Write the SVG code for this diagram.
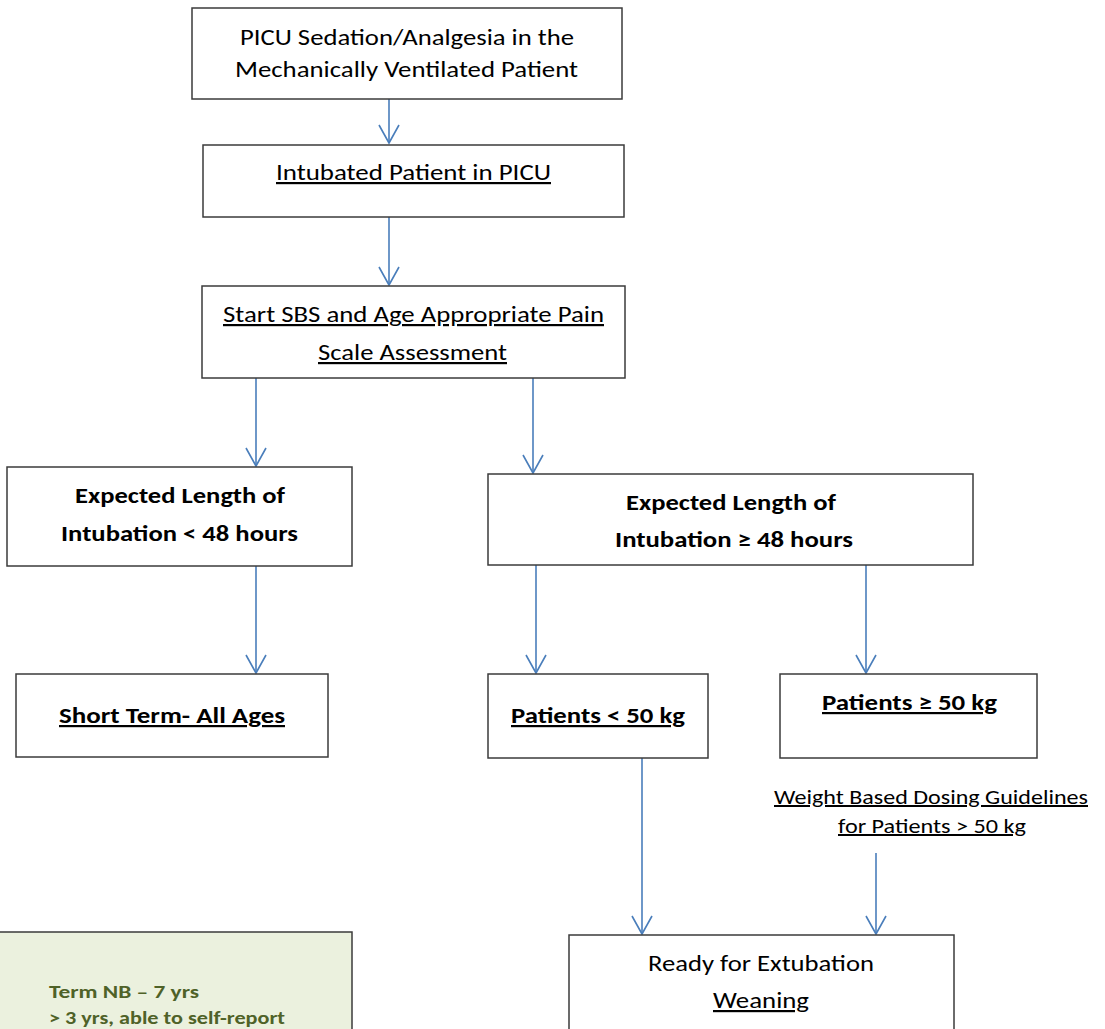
<svg xmlns="http://www.w3.org/2000/svg" width="1105" height="1029" viewBox="0 0 1105 1029">
  <style>
    .box { fill: #ffffff; stroke: #3b3b3b; stroke-width: 1.5; }
    .note { fill: #ebf1de; stroke: #3b3b3b; stroke-width: 1.5; }
    .t { font-family: Carlito, Lato, "Liberation Sans", sans-serif; fill: #000000; text-anchor: middle; }
    .r { font-size: 22px; }
    .s { font-size: 20px; }
    .b { font-size: 22px; font-weight: bold; }
    .g { font-family: Carlito, Lato, "Liberation Sans", sans-serif; font-size: 19px; font-weight: bold; fill: #4f6228; }
    .u { text-decoration: underline; }
    .link { fill: none; stroke: #4a7ebb; stroke-width: 1.6; marker-end: url(#head); }
  </style>
  <defs>
    <marker id="head" markerUnits="userSpaceOnUse" markerWidth="24" markerHeight="24" refX="0" refY="0" orient="auto" overflow="visible">
      <path d="M -18 -10 L 0 0 L -18 10" fill="none" stroke="#4a7ebb" stroke-width="1.6"/>
    </marker>
  </defs>

  <rect width="1105" height="1029" fill="#ffffff"/>

  <g id="connectors">
    <line class="link" x1="389" y1="99" x2="389" y2="143"/>
    <line class="link" x1="389" y1="217" x2="389" y2="285"/>
    <line class="link" x1="256" y1="378" x2="256" y2="466"/>
    <line class="link" x1="533" y1="378" x2="533" y2="473"/>
    <line class="link" x1="256" y1="566" x2="256" y2="673"/>
    <line class="link" x1="536" y1="565" x2="536" y2="673"/>
    <line class="link" x1="866" y1="565" x2="866" y2="673"/>
    <line class="link" x1="642" y1="758" x2="642" y2="934"/>
    <line class="link" x1="876" y1="853" x2="876" y2="934"/>
  </g>

  <g id="title">
    <rect class="box" x="192" y="8" width="430" height="91"/>
    <text class="t r" x="407" y="45" textLength="334" lengthAdjust="spacingAndGlyphs">PICU Sedation/Analgesia in the</text>
    <text class="t r" x="406.5" y="77" textLength="343" lengthAdjust="spacingAndGlyphs">Mechanically Ventilated Patient</text>
  </g>

  <g id="intubated">
    <rect class="box" x="203" y="145" width="421" height="72"/>
    <text class="t r u" x="413.5" y="180" textLength="275" lengthAdjust="spacingAndGlyphs">Intubated Patient in PICU</text>
  </g>

  <g id="assessment">
    <rect class="box" x="202" y="286" width="423" height="92"/>
    <text class="t r u" x="413.5" y="322" textLength="381" lengthAdjust="spacingAndGlyphs">Start SBS and Age Appropriate Pain</text>
    <text class="t r u" x="412.5" y="360" textLength="189" lengthAdjust="spacingAndGlyphs">Scale Assessment</text>
  </g>

  <g id="under48">
    <rect class="box" x="7" y="467" width="345" height="99"/>
    <text class="t b" x="180" y="503" textLength="210" lengthAdjust="spacingAndGlyphs">Expected Length of</text>
    <text class="t b" x="179.5" y="541" textLength="237" lengthAdjust="spacingAndGlyphs">Intubation &lt; 48 hours</text>
  </g>

  <g id="over48">
    <rect class="box" x="488" y="474" width="485" height="91"/>
    <text class="t b" x="731" y="510" textLength="210" lengthAdjust="spacingAndGlyphs">Expected Length of</text>
    <text class="t b" x="734" y="547" textLength="238" lengthAdjust="spacingAndGlyphs">Intubation ≥ 48 hours</text>
  </g>

  <g id="short-term">
    <rect class="box" x="16" y="674" width="312" height="83"/>
    <text class="t b u" x="172" y="723" textLength="226" lengthAdjust="spacingAndGlyphs">Short Term- All Ages</text>
  </g>

  <g id="under50">
    <rect class="box" x="488" y="674" width="220" height="84"/>
    <text class="t b u" x="598" y="723" textLength="174" lengthAdjust="spacingAndGlyphs">Patients &lt; 50 kg</text>
  </g>

  <g id="over50">
    <rect class="box" x="780" y="674" width="257" height="84"/>
    <text class="t b u" x="909.5" y="710" textLength="175" lengthAdjust="spacingAndGlyphs">Patients ≥ 50 kg</text>
  </g>

  <g id="weight-guidelines">
    <text class="t s u" x="931" y="804" textLength="314" lengthAdjust="spacingAndGlyphs">Weight Based Dosing Guidelines</text>
    <text class="t s u" x="932" y="833" textLength="188" lengthAdjust="spacingAndGlyphs">for Patients &gt; 50 kg</text>
  </g>

  <g id="extubation">
    <rect class="box" x="569" y="935" width="385" height="120"/>
    <text class="t r" x="761" y="971" textLength="226" lengthAdjust="spacingAndGlyphs">Ready for Extubation</text>
    <text class="t r u" x="761" y="1008" textLength="96" lengthAdjust="spacingAndGlyphs">Weaning</text>
  </g>

  <g id="age-note">
    <rect class="note" x="-2" y="932" width="354" height="120"/>
    <text class="g" x="49" y="998" textLength="150" lengthAdjust="spacingAndGlyphs">Term NB – 7 yrs</text>
    <text class="g" x="49" y="1024" textLength="236" lengthAdjust="spacingAndGlyphs">&gt; 3 yrs, able to self-report</text>
  </g>
</svg>
